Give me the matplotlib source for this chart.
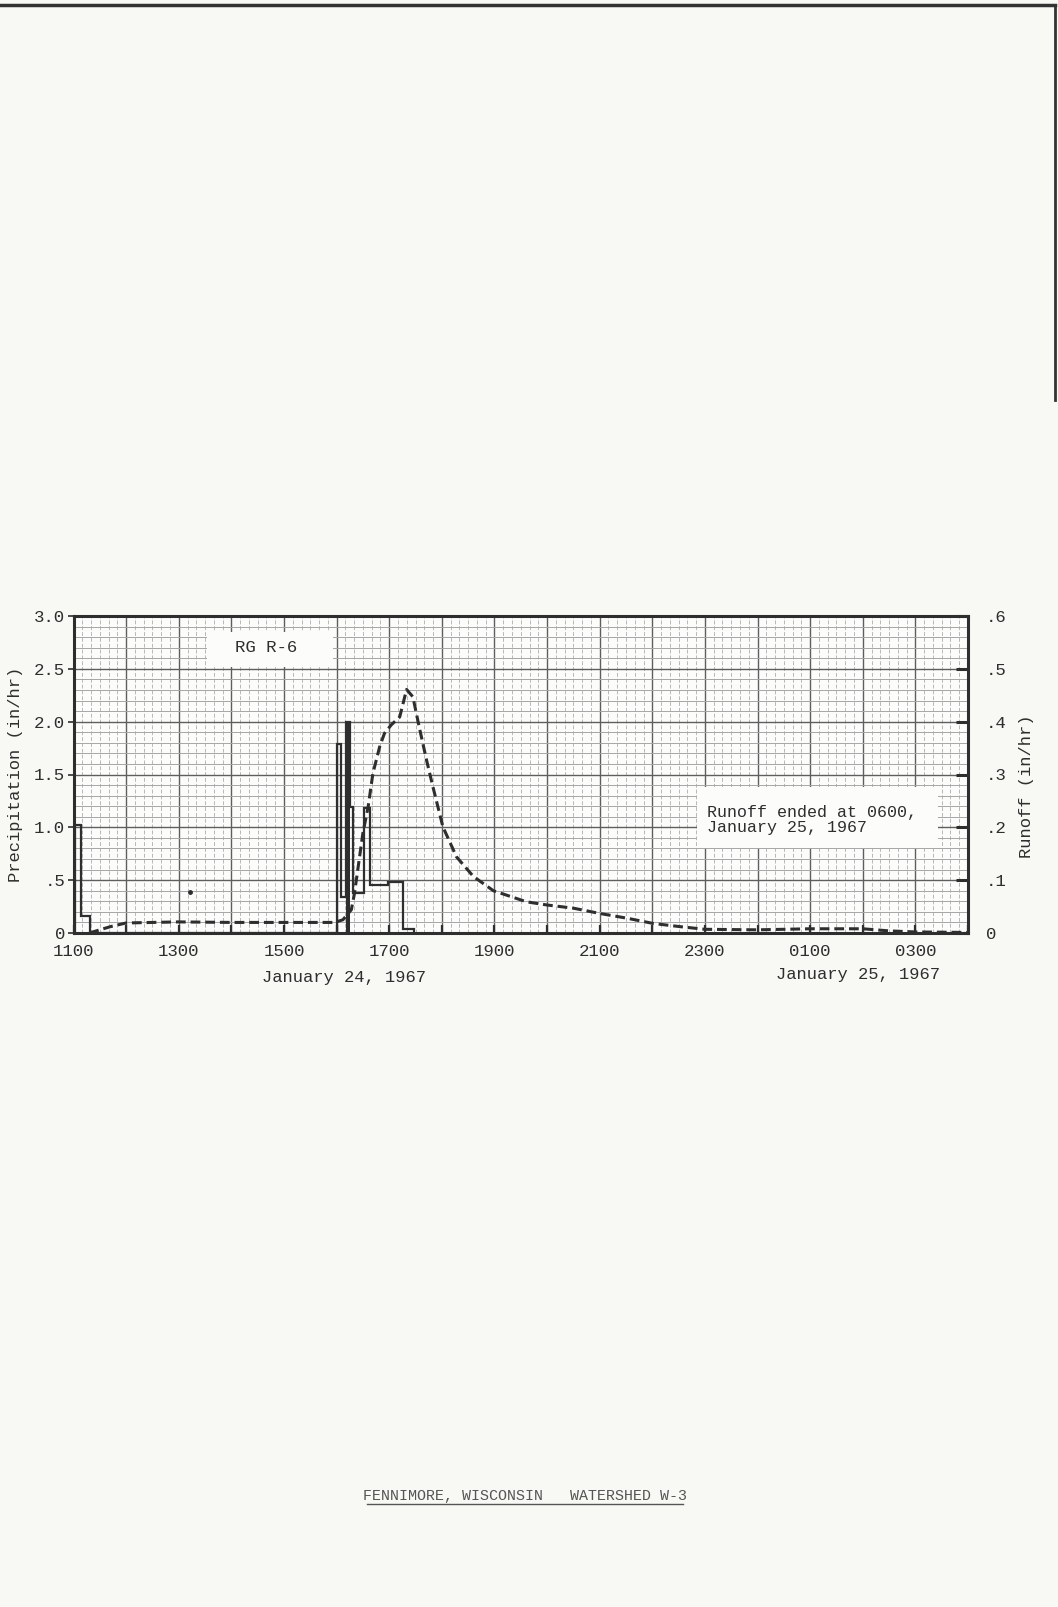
import matplotlib
matplotlib.use("Agg")
import matplotlib.pyplot as plt
from matplotlib.patches import Rectangle
from matplotlib.lines import Line2D
from matplotlib.ticker import MultipleLocator, FixedLocator

plt.rcParams['font.family'] = ['Liberation Mono', 'DejaVu Sans Mono']

# hours after 1100, January 24, 1967
tick_hours = list(range(0, 18))
tick_labels = ["1100", "", "1300", "", "1500", "", "1700", "", "1900", "",
               "2100", "", "2300", "", "0100", "", "0300", ""]

# precipitation (in/hr), step values between edges
precip_edges = [0.03, 0.14, 0.31, 5.01, 5.08, 5.18, 5.26, 5.32, 5.53, 5.64, 5.98, 6.26, 6.47]
precip_vals = [1.02, 0.16, 0.0, 1.79, 0.34, 2.0, 1.19, 0.38, 1.18, 0.45, 0.48, 0.04]
stray_dot = (2.22, 0.39)

# runoff (in/hr)
runoff_hours = [0.3, 0.7, 1.0, 1.5, 2.0, 3.0, 4.0, 4.96, 5.12, 5.28, 5.34, 5.41, 5.50,
                5.60, 5.69, 5.82, 5.91, 6.04, 6.20, 6.33, 6.45, 6.57, 6.71, 6.83, 7.02,
                7.28, 7.60, 7.98, 8.61, 9.0, 9.5, 10.0, 10.52, 11.02, 11.53, 12.0, 13.0,
                14.0, 15.0, 15.5, 16.0, 17.0]
runoff_vals = [0.0, 0.012, 0.019, 0.02, 0.021, 0.02, 0.02, 0.02, 0.025, 0.044, 0.075, 0.125, 0.189,
               0.239, 0.302, 0.353, 0.378, 0.394, 0.409, 0.461, 0.447, 0.39, 0.327, 0.277, 0.201,
               0.144, 0.107, 0.08, 0.059, 0.053, 0.047, 0.037, 0.028, 0.018, 0.012, 0.007, 0.006,
               0.008, 0.008, 0.004, 0.002, 0.001]

left_ticks = [0, 0.5, 1.0, 1.5, 2.0, 2.5, 3.0]
left_labels = ["0", ".5", "1.0", "1.5", "2.0", "2.5", "3.0"]
right_ticks = [0, 0.1, 0.2, 0.3, 0.4, 0.5, 0.6]
right_labels = ["0", ".1", ".2", ".3", ".4", ".5", ".6"]

W, H = 1058, 1607
bg = '#f8f8f4'
ink = '#2e2e2e'

fig = plt.figure(figsize=(W / 100, H / 100), dpi=100, facecolor=bg)
ax = fig.add_axes([73.5 / W, 1 - 933 / H, (968 - 73.5) / W, 317 / H])
ax.set_facecolor('#fcfcfa')
ax.set_xlim(0, 17)
ax.set_ylim(0, 3.0)

# graph paper
ax.xaxis.set_major_locator(FixedLocator(tick_hours))
ax.xaxis.set_minor_locator(MultipleLocator(1 / 6))
ax.yaxis.set_major_locator(FixedLocator(left_ticks))
ax.yaxis.set_minor_locator(MultipleLocator(0.1))
ax.grid(which='major', axis='both', color='#5e5e5e', lw=1.0)
ax.grid(which='minor', axis='y', color='#a6a6a6', lw=0.7)
ax.grid(which='minor', axis='x', color='#b8b8b8', lw=0.7, linestyle=(0, (4, 2)))
ax.set_axisbelow(True)

ax.set_xticklabels(tick_labels)
ax.set_yticklabels(left_labels)
ax.tick_params(axis='x', which='major', direction='in', length=6, width=1.6,
               colors=ink, labelsize=12.5, pad=8)
ax.tick_params(axis='y', which='major', direction='out', length=4, width=1.2,
               colors=ink, labelsize=12.5, pad=2)
ax.tick_params(which='minor', length=0)
for s in ax.spines.values():
    s.set_linewidth(2.2)
    s.set_color(ink)

# white label boxes
ax.add_patch(Rectangle(((207 - 73.5) / 894.5, (933 - 667) / 317), 126 / 894.5, 35 / 317,
                       transform=ax.transAxes, facecolor='#fcfcfa', edgecolor='none', zorder=1.5))
ax.add_patch(Rectangle(((697 - 73.5) / 894.5, (933 - 848) / 317), 241 / 894.5, 61 / 317,
                       transform=ax.transAxes, facecolor='#fcfcfa', edgecolor='none', zorder=1.5))
ax.text((266 - 73.5) / 894.5, (933 - 648) / 317, "RG R-6", transform=ax.transAxes,
        ha='center', va='center', fontsize=12.5, color=ink, zorder=2)
ax.text((707 - 73.5) / 894.5, (933 - 820) / 317, "Runoff ended at 0600,\nJanuary 25, 1967",
        transform=ax.transAxes, ha='left', va='center', fontsize=12, color=ink,
        linespacing=0.95, zorder=2)

# precipitation
ax.stairs(precip_vals, precip_edges, baseline=0, color=ink, lw=1.6, zorder=3)
i_max = precip_vals.index(max(precip_vals))
ax.bar(precip_edges[i_max], precip_vals[i_max], width=precip_edges[i_max + 1] - precip_edges[i_max],
       align='edge', color=ink, zorder=3)
ax.plot([stray_dot[0]], [stray_dot[1]], 'o', ms=2.5, color=ink, zorder=3)

ax.set_ylabel("Precipitation (in/hr)", fontsize=12.3, color=ink, labelpad=8)

# runoff on right axis
ax2 = ax.twinx()
ax2.set_ylim(0, 0.6)
ax2.plot(runoff_hours, runoff_vals, color=ink, lw=2.2, dashes=(3.2, 1.6), zorder=4)
ax2.set_yticks(right_ticks)
ax2.set_yticklabels(right_labels)
ax2.tick_params(axis='y', direction='in', length=9, width=2.2, colors=ink,
                labelsize=12.5, pad=13)
for s in ax2.spines.values():
    s.set_visible(False)
fig.text(1027 / W, 1 - 786 / H, "Runoff (in/hr)", rotation=90, ha='center', va='center',
         fontsize=12.3, color=ink)

fig.text(344 / W, 1 - 977 / H, "January 24, 1967", ha='center', va='center',
         fontsize=12.3, color=ink)
fig.text(858 / W, 1 - 975 / H, "January 25, 1967", ha='center', va='center',
         fontsize=12.3, color=ink)

# caption
fig.text(525 / W, 1 - 1496 / H, "FENNIMORE, WISCONSIN   WATERSHED W-3", ha='center',
         va='center', fontsize=10.8, color='#555555')
fig.add_artist(Line2D([367 / W, 683 / W], [1 - 1504 / H, 1 - 1504 / H],
                      transform=fig.transFigure, color='#555555', lw=1.0))

# page edge
fig.add_artist(Line2D([0, 1055 / W], [1 - 5 / H, 1 - 5 / H], transform=fig.transFigure,
                      color='#333333', lw=2.5))
fig.add_artist(Line2D([1055 / W, 1055 / W], [1 - 5 / H, 1 - 400 / H], transform=fig.transFigure,
                      color='#333333', lw=2.0))

fig.savefig("out.png", dpi=100, facecolor=bg)
